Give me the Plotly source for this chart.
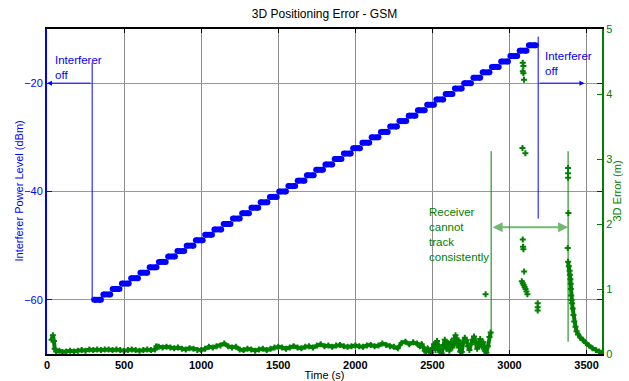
import plotly.graph_objects as go

# ---------------- data ----------------
# interferer power steps (start time of each 60 s step, level in dBm)
step_start = [290, 350, 410, 470, 530, 590, 650, 710, 770, 830, 890, 950, 1010, 1070,
              1130, 1190, 1250, 1310, 1370, 1430, 1490, 1550, 1610, 1670, 1730, 1790,
              1850, 1910, 1970, 2030, 2090, 2150, 2210, 2270, 2330, 2390, 2450, 2510,
              2570, 2630, 2690, 2750, 2810, 2870, 2930, 2990, 3050, 3110]
step_level = [-60, -59, -58, -57, -56, -55, -54, -53, -52, -51, -50, -49, -48, -47,
              -46, -45, -44, -43, -42, -41, -40, -39, -38, -37, -36, -35, -34, -33,
              -32, -31, -30, -29, -28, -27, -26, -25, -24, -23, -22, -21, -20, -19,
              -18, -17, -16, -15, -14, -13]

# 3D error while tracking (s, m)
err_t = [30, 38, 45, 50, 60, 80, 100, 125, 150, 175, 200, 225, 250, 275, 300, 325, 350,
         375, 400, 425, 450, 475, 500, 525, 550, 575, 600, 625, 650, 675, 700, 710, 725,
         750, 775, 800, 825, 850, 875, 900, 925, 950, 975, 1000, 1025, 1050, 1075, 1100,
         1125, 1150, 1175, 1200, 1225, 1250, 1275, 1300, 1325, 1350, 1375, 1400, 1425,
         1450, 1475, 1500, 1525, 1550, 1575, 1600, 1625, 1650, 1675, 1700, 1725, 1750,
         1775, 1800, 1825, 1850, 1875, 1900, 1925, 1950, 1975, 2000, 2025, 2050, 2075,
         2100, 2125, 2150, 2175, 2200, 2225, 2250, 2275, 2300, 2325, 2350, 2375, 2400,
         2410, 2420, 2430, 2440, 2450, 2460, 2470, 2480, 2490, 2500, 2510, 2520, 2530,
         2540, 2550, 2560, 2570, 2580, 2590, 2600, 2610, 2620, 2630, 2640, 2650, 2660,
         2670, 2680, 2690, 2700, 2710, 2720, 2730, 2740, 2750, 2760, 2770, 2780, 2790,
         2800, 2810, 2820, 2830, 2840, 2850, 2860, 2870, 2878]
err_v = [0.22, 0.29, 0.20, 0.08, 0.04, 0.05, 0.03, 0.04, 0.05, 0.04, 0.05, 0.06, 0.05,
         0.07, 0.06, 0.07, 0.06, 0.07, 0.07, 0.06, 0.07, 0.06, 0.05, 0.06, 0.07, 0.06,
         0.05, 0.06, 0.07, 0.06, 0.07, 0.12, 0.11, 0.10, 0.11, 0.10, 0.09, 0.10, 0.08,
         0.07, 0.09, 0.08, 0.06, 0.06, 0.08, 0.11, 0.10, 0.12, 0.13, 0.16, 0.12, 0.10,
         0.11, 0.07, 0.06, 0.08, 0.07, 0.05, 0.07, 0.08, 0.06, 0.08, 0.10, 0.11, 0.10,
         0.08, 0.10, 0.12, 0.10, 0.09, 0.11, 0.12, 0.10, 0.13, 0.15, 0.12, 0.13, 0.11,
         0.13, 0.14, 0.12, 0.11, 0.12, 0.13, 0.12, 0.11, 0.13, 0.14, 0.12, 0.13, 0.16,
         0.14, 0.12, 0.11, 0.09, 0.17, 0.19, 0.15, 0.18, 0.16,
         0.14, 0.12, 0.15, 0.10, 0.05, 0.03, 0.08, 0.04, 0.02, 0.09, 0.15, 0.06, 0.20,
         0.12, 0.03, 0.01, 0.14, 0.22, 0.08, 0.17, 0.05, 0.19, 0.10, 0.24, 0.29, 0.13,
         0.21, 0.04, 0.03, 0.18, 0.25, 0.21, 0.12, 0.06, 0.15, 0.22, 0.27, 0.19, 0.08,
         0.14, 0.23, 0.11, 0.18, 0.05, 0.02, 0.12, 0.26, 0.33]

# isolated fixes while the receiver cannot track consistently
scat_t = [2845, 3086, 3090, 3086, 3090, 3094, 3084, 3103, 3086, 3088, 3090, 3095,
          3080, 3086, 3092, 3098, 3104, 3110, 3116, 3183, 3183, 3183,
          3380, 3380, 3380, 3382, 3378]
scat_v = [0.92, 4.48, 4.43, 4.35, 4.32, 4.22, 3.17, 3.09, 1.76, 1.65, 1.61, 1.27,
          1.12, 1.09, 1.06, 1.03, 1.00, 0.96, 0.92, 0.78, 0.72, 0.67,
          2.86, 2.78, 2.71, 2.17, 1.63]

# re-acquisition tail
tail_t = [3380, 3385, 3390, 3392, 3395, 3397, 3398, 3400, 3403, 3406, 3410, 3415, 3420,
          3428, 3435, 3445, 3460, 3475, 3495, 3515, 3538, 3560, 3580, 3594]
tail_v = [1.42, 1.35, 1.28, 1.22, 1.15, 1.08, 1.00, 0.90, 0.83, 0.78, 0.70, 0.60, 0.50,
          0.42, 0.35, 0.30, 0.25, 0.22, 0.17, 0.13, 0.09, 0.06, 0.04, 0.02]

x_ticks = [0, 500, 1000, 1500, 2000, 2500, 3000, 3500]
y_ticks = [-60, -40, -20]
y2_ticks = [0, 1, 2, 3, 4, 5]

# annotation geometry (data units)
intf_off_t = [293, 3186]          # interferer switched on / off
intf_off_top = [-16.2, -11.4]
intf_off_bottom = [-60, -45]
arrow_level = -20
right_arrow_end = 3486
track_lines_t = [2881, 3380]
track_lines_top = [3.12, 3.12]
track_lines_bottom = [0.28, 0.19]
track_arrow_y = 1.95

BLUE = "#0000ff"
GREEN = "#008000"
FONT = "Arial, Liberation Sans, sans-serif"

fig = go.Figure()

# blue steps as pills
sx, sy = [], []
for s, lv in zip(step_start, step_level):
    sx += [s + 16, s + 60, None]
    sy += [lv, lv, None]
fig.add_trace(go.Scatter(x=sx, y=sy, mode="lines+markers",
                         line=dict(color=BLUE, width=6),
                         marker=dict(color=BLUE, size=6), yaxis="y",
                         showlegend=False, hoverinfo="skip"))

fig.add_trace(go.Scatter(x=err_t, y=err_v, mode="lines+markers",
                         line=dict(color=GREEN, width=4),
                         marker=dict(color=GREEN, size=5, symbol="cross"),
                         yaxis="y2", showlegend=False))
fig.add_trace(go.Scatter(x=scat_t, y=scat_v, mode="markers",
                         marker=dict(color=GREEN, size=5, symbol="cross"),
                         yaxis="y2", showlegend=False))
fig.add_trace(go.Scatter(x=tail_t, y=tail_v, mode="lines+markers",
                         line=dict(color=GREEN, width=4),
                         marker=dict(color=GREEN, size=5, symbol="cross"),
                         yaxis="y2", showlegend=False))

shapes = []
for t, a, b in zip(intf_off_t, intf_off_top, intf_off_bottom):
    shapes.append(dict(type="line", xref="x", yref="y", x0=t, x1=t, y0=a, y1=b,
                       line=dict(color=BLUE, width=1)))
for t, a, b in zip(track_lines_t, track_lines_top, track_lines_bottom):
    shapes.append(dict(type="line", xref="x", yref="y2", x0=t, x1=t, y0=a, y1=b,
                       line=dict(color=GREEN, width=1)))

annotations = [
    dict(x=0, y=arrow_level, ax=intf_off_t[0], ay=arrow_level, xref="x", yref="y",
         axref="x", ayref="y", showarrow=True, arrowhead=2, arrowsize=1,
         arrowwidth=1, arrowcolor=BLUE, text=""),
    dict(x=right_arrow_end, y=arrow_level, ax=intf_off_t[1], ay=arrow_level,
         xref="x", yref="y", axref="x", ayref="y", showarrow=True, arrowhead=2,
         arrowsize=1, arrowwidth=1, arrowcolor=BLUE, text=""),
    dict(x=track_lines_t[1], y=track_arrow_y, ax=track_lines_t[0], ay=track_arrow_y,
         xref="x", yref="y2", axref="x", ayref="y2", showarrow=True, arrowhead=2,
         startarrowhead=2, arrowside="end+start", arrowsize=1, arrowwidth=2,
         arrowcolor="rgba(0,128,0,0.55)", text=""),
    dict(x=38, y=-14.2, xref="x", yref="y", text="Interferer<br>off", showarrow=False,
         xanchor="left", yanchor="top", align="left",
         font=dict(family=FONT, size=11.5, color=BLUE)),
    dict(x=3216, y=-13.45, xref="x", yref="y", text="Interferer<br>off", showarrow=False,
         xanchor="left", yanchor="top", align="left",
         font=dict(family=FONT, size=11.5, color=BLUE)),
    dict(x=2467, y=2.31, xref="x", yref="y2",
         text="Receiver<br>cannot<br>track<br>consistently", showarrow=False,
         xanchor="left", yanchor="top", align="left",
         font=dict(family=FONT, size=11.5, color=GREEN)),
    # axis titles
    dict(x=(18 - 47) / 555, y=0.5, xref="paper", yref="paper", textangle=-90,
         text="Interferer Power Level (dBm)", showarrow=False,
         xanchor="center", yanchor="middle",
         font=dict(family=FONT, size=11, color=BLUE)),
    dict(x=(616 - 47) / 555, y=0.5, xref="paper", yref="paper", textangle=-90,
         text="3D Error (m)", showarrow=False, xanchor="center", yanchor="middle",
         font=dict(family=FONT, size=11, color=GREEN)),
]

fig.update_layout(
    width=629, height=381,
    margin=dict(l=47, r=27, t=29, b=27),
    paper_bgcolor="white", plot_bgcolor="white",
    font=dict(family=FONT, size=11, color="black"),
    title=dict(text="3D Positioning Error - GSM", x=0.5, xref="paper",
               y=1 - 14 / 381, yref="container", xanchor="center", yanchor="middle",
               font=dict(family=FONT, size=12, color="black")),
    xaxis=dict(range=[0, 3600], tickvals=x_ticks, ticks="inside", ticklen=4,
               tickcolor="black", showline=True, linecolor="black", linewidth=1.5,
               mirror="ticks", showgrid=True, gridcolor="#8a8a8a", gridwidth=1,
               zeroline=False, automargin=False,
               tickfont=dict(family=FONT, size=11, color="black", weight="bold"),
               title=dict(text="Time (s)", standoff=2,
                          font=dict(family=FONT, size=11, color="black"))),
    yaxis=dict(range=[-70, -10], tickvals=y_ticks, ticks="inside", ticklen=5,
               tickcolor=BLUE, showline=True, linecolor=BLUE, linewidth=2,
               mirror="ticks", showgrid=True, gridcolor="#8c8cff", gridwidth=1,
               zeroline=False, automargin=False,
               tickfont=dict(family=FONT, size=11, color=BLUE)),
    yaxis2=dict(range=[0, 5], tickvals=y2_ticks, overlaying="y", side="right",
                ticks="inside", ticklen=5, tickcolor=GREEN, showline=True,
                linecolor=GREEN, linewidth=2, showgrid=False, zeroline=False,
                automargin=False,
                tickfont=dict(family=FONT, size=11, color=GREEN)),
    shapes=shapes,
    annotations=annotations,
    showlegend=False,
)

fig.write_html("out.html")
